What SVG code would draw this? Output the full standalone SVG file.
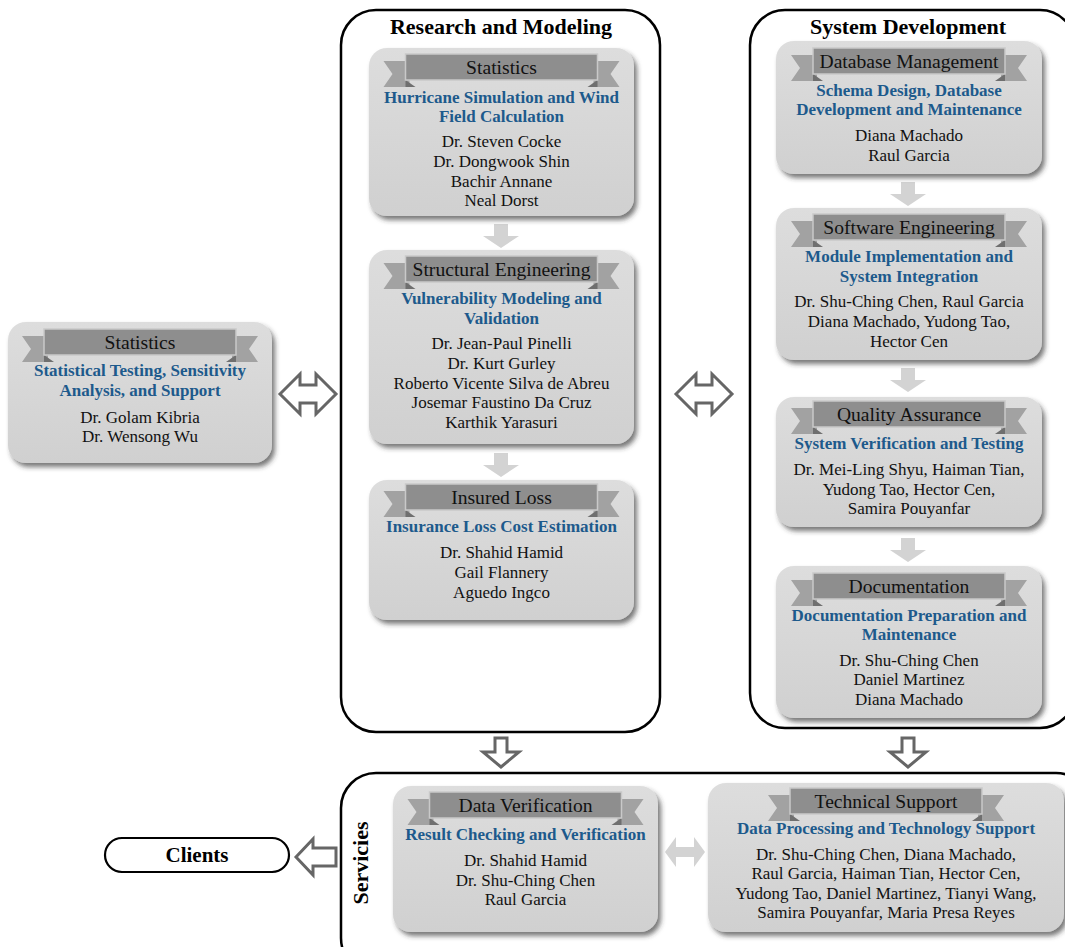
<svg xmlns="http://www.w3.org/2000/svg" xmlns:xlink="http://www.w3.org/1999/xlink" width="1065" height="947" viewBox="0 0 1065 947">
<style>
.cont{fill:none;stroke:#000;stroke-width:2.5}
.box{fill:url(#boxg);filter:url(#sh)}
.ct{font-family:"Liberation Serif","Times New Roman",serif;font-weight:bold;font-size:22px;fill:#000;text-anchor:middle}
.bt{font-family:"Liberation Serif","Times New Roman",serif;font-size:19.6px;fill:#111;text-anchor:middle}
.sub{font-family:"Liberation Serif","Times New Roman",serif;font-weight:bold;font-size:17px;fill:#1d5a8c;text-anchor:middle}
.nm{font-family:"Liberation Serif","Times New Roman",serif;font-size:17px;fill:#111;text-anchor:middle}
.hol{fill:#fff;stroke:#666;stroke-width:3;stroke-linejoin:miter}
.lg{fill:#d3d3d3}
</style>
<defs>
<linearGradient id="boxg" x1="0" y1="0" x2="0" y2="1">
<stop offset="0" stop-color="#dddddd"/>
<stop offset="1" stop-color="#d0d0d0"/>
</linearGradient>
<filter id="sh" x="-10%" y="-10%" width="125%" height="125%">
<feDropShadow dx="3" dy="4" stdDeviation="2.5" flood-color="#333" flood-opacity="0.65"/>
</filter>
<g id="ribbon">
<polygon points="-118,7 -92,7 -92,33 -118,33 -109,20" fill="#a2a2a2"/>
<polygon points="118,7 92,7 92,33 118,33 109,20" fill="#a2a2a2"/>
<polygon points="-96,26 -86,33 -96,33" fill="#6f6f6f"/>
<polygon points="96,26 86,33 96,33" fill="#6f6f6f"/>
<rect x="-96" y="0" width="192" height="26" fill="#8e8e8e" stroke="#c9c9c9" stroke-width="1.5"/>
</g>
<path id="dbl" d="M-28,0 L-8,-20 L-8,-9 L8,-9 L8,-20 L28,0 L8,20 L8,9 L-8,9 L-8,20 Z"/>
<path id="down" d="M-6,0 L6,0 L6,14 L18,14 L0,29 L-18,14 L-6,14 Z"/>
<path id="gdown" d="M-7,0 L7,0 L7,12 L18,12 L0,24 L-18,12 L-7,12 Z"/>
</defs>
<rect width="1065" height="947" fill="#fff"/>

<g id="containers">
<rect class="cont" x="341" y="10" width="319" height="722" rx="35"/>
<text class="ct" x="501" y="34">Research and Modeling</text>
<rect class="cont" x="750" y="10" width="325" height="718" rx="35"/>
<text class="ct" x="908" y="34">System Development</text>
<rect class="cont" x="341" y="773" width="750" height="200" rx="35"/>
<text class="ct" transform="translate(368,863) rotate(-90)" x="0" y="0">Servicies</text>
</g>

<g id="connectors">
<use href="#dbl" class="hol" x="308" y="394"/>
<use href="#dbl" class="hol" x="704" y="394"/>
<use href="#down" class="hol" x="501" y="738"/>
<use href="#down" class="hol" x="908" y="738"/>
<path class="hol" d="M296,857 L313,839 L313,848 L336,848 L336,866 L313,866 L313,875 Z"/>
<path class="lg" d="M665,852 L676,837 L676,847 L694,847 L694,837 L705,852 L694,867 L694,857 L676,857 L676,867 Z"/>
<use href="#gdown" class="lg" x="501" y="224"/>
<use href="#gdown" class="lg" x="501" y="453"/>
<use href="#gdown" class="lg" x="908" y="182"/>
<use href="#gdown" class="lg" x="908" y="368"/>
<use href="#gdown" class="lg" x="908" y="538"/>
</g>

<g id="clients">
<rect x="105" y="838" width="184" height="34" rx="17" fill="#fff" stroke="#000" stroke-width="2.2"/>
<text class="ct" style="font-size:21px" x="197" y="862">Clients</text>
</g>

<g id="stats-left">
<rect class="box" x="8" y="322" width="264" height="141" rx="18"/>
<use href="#ribbon" x="140" y="329"/>
<text class="bt" x="140" y="348.5">Statistics</text>
<text class="sub" x="140" y="376">Statistical Testing, Sensitivity</text>
<text class="sub" x="140" y="396">Analysis, and Support</text>
<text class="nm" x="140" y="423">Dr. Golam Kibria</text>
<text class="nm" x="140" y="442">Dr. Wensong Wu</text>
</g>

<g id="rm-statistics">
<rect class="box" x="369" y="48" width="265" height="168" rx="18"/>
<use href="#ribbon" x="501.5" y="54"/>
<text class="bt" x="501.5" y="73.5">Statistics</text>
<text class="sub" x="501.5" y="103">Hurricane Simulation and Wind</text>
<text class="sub" x="501.5" y="122">Field Calculation</text>
<text class="nm" x="501.5" y="147">Dr. Steven Cocke</text>
<text class="nm" x="501.5" y="167">Dr. Dongwook Shin</text>
<text class="nm" x="501.5" y="187">Bachir Annane</text>
<text class="nm" x="501.5" y="206">Neal Dorst</text>
</g>

<g id="rm-structural">
<rect class="box" x="369" y="250" width="265" height="194" rx="18"/>
<use href="#ribbon" x="501.5" y="256"/>
<text class="bt" x="501.5" y="275.5">Structural Engineering</text>
<text class="sub" x="501.5" y="304">Vulnerability Modeling and</text>
<text class="sub" x="501.5" y="324">Validation</text>
<text class="nm" x="501.5" y="349">Dr. Jean-Paul Pinelli</text>
<text class="nm" x="501.5" y="369">Dr. Kurt Gurley</text>
<text class="nm" x="501.5" y="389">Roberto Vicente Silva de Abreu</text>
<text class="nm" x="501.5" y="408">Josemar Faustino Da Cruz</text>
<text class="nm" x="501.5" y="428">Karthik Yarasuri</text>
</g>

<g id="rm-insured">
<rect class="box" x="369" y="480" width="265" height="140" rx="18"/>
<use href="#ribbon" x="501.5" y="484"/>
<text class="bt" x="501.5" y="503.5">Insured Loss</text>
<text class="sub" x="501.5" y="532">Insurance Loss Cost Estimation</text>
<text class="nm" x="501.5" y="558">Dr. Shahid Hamid</text>
<text class="nm" x="501.5" y="578">Gail Flannery</text>
<text class="nm" x="501.5" y="598">Aguedo Ingco</text>
</g>

<g id="sd-database">
<rect class="box" x="776" y="41" width="266" height="133" rx="18"/>
<use href="#ribbon" x="909" y="48"/>
<text class="bt" x="909" y="67.5">Database Management</text>
<text class="sub" x="909" y="96">Schema Design, Database</text>
<text class="sub" x="909" y="115">Development and Maintenance</text>
<text class="nm" x="909" y="141">Diana Machado</text>
<text class="nm" x="909" y="161">Raul Garcia</text>
</g>

<g id="sd-software">
<rect class="box" x="776" y="208" width="266" height="152" rx="18"/>
<use href="#ribbon" x="909" y="214"/>
<text class="bt" x="909" y="233.5">Software Engineering</text>
<text class="sub" x="909" y="262">Module Implementation and</text>
<text class="sub" x="909" y="282">System Integration</text>
<text class="nm" x="909" y="307">Dr. Shu-Ching Chen, Raul Garcia</text>
<text class="nm" x="909" y="327">Diana Machado, Yudong Tao,</text>
<text class="nm" x="909" y="347">Hector Cen</text>
</g>

<g id="sd-qa">
<rect class="box" x="776" y="397" width="266" height="130" rx="18"/>
<use href="#ribbon" x="909" y="401"/>
<text class="bt" x="909" y="420.5">Quality Assurance</text>
<text class="sub" x="909" y="449">System Verification and Testing</text>
<text class="nm" x="909" y="475">Dr. Mei-Ling Shyu, Haiman Tian,</text>
<text class="nm" x="909" y="495">Yudong Tao, Hector Cen,</text>
<text class="nm" x="909" y="514">Samira Pouyanfar</text>
</g>

<g id="sd-documentation">
<rect class="box" x="776" y="566" width="266" height="152" rx="18"/>
<use href="#ribbon" x="909" y="573"/>
<text class="bt" x="909" y="592.5">Documentation</text>
<text class="sub" x="909" y="621">Documentation Preparation and</text>
<text class="sub" x="909" y="640">Maintenance</text>
<text class="nm" x="909" y="666">Dr. Shu-Ching Chen</text>
<text class="nm" x="909" y="685">Daniel Martinez</text>
<text class="nm" x="909" y="705">Diana Machado</text>
</g>

<g id="sv-verification">
<rect class="box" x="393" y="786" width="265" height="146" rx="18"/>
<use href="#ribbon" x="525.5" y="792"/>
<text class="bt" x="525.5" y="811.5">Data Verification</text>
<text class="sub" x="525.5" y="840">Result Checking and Verification</text>
<text class="nm" x="525.5" y="866">Dr. Shahid Hamid</text>
<text class="nm" x="525.5" y="886">Dr. Shu-Ching Chen</text>
<text class="nm" x="525.5" y="905">Raul Garcia</text>
</g>

<g id="sv-technical">
<rect class="box" x="708" y="783" width="356" height="149" rx="18"/>
<use href="#ribbon" x="886" y="788"/>
<text class="bt" x="886" y="807.5">Technical Support</text>
<text class="sub" x="886" y="834">Data Processing and Technology Support</text>
<text class="nm" x="886" y="860">Dr. Shu-Ching Chen, Diana Machado,</text>
<text class="nm" x="886" y="879">Raul Garcia, Haiman Tian, Hector Cen,</text>
<text class="nm" x="886" y="899">Yudong Tao, Daniel Martinez, Tianyi Wang,</text>
<text class="nm" x="886" y="918">Samira Pouyanfar, Maria Presa Reyes</text>
</g>
</svg>
